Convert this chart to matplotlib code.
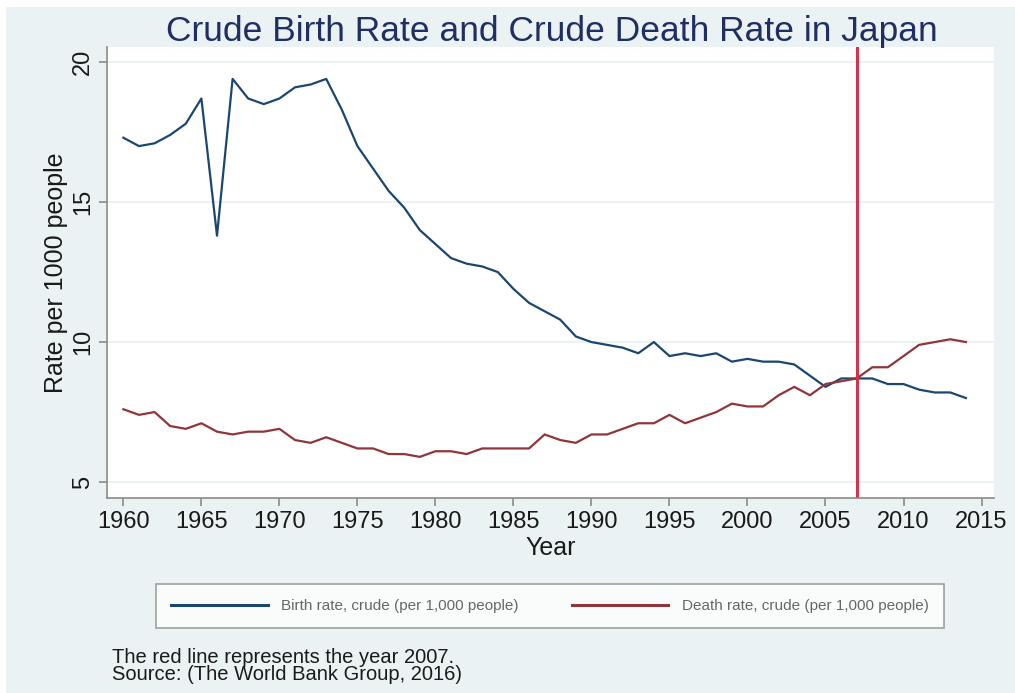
import numpy as np
import matplotlib
matplotlib.use("Agg")
from matplotlib import pyplot as plt
from matplotlib.patches import Rectangle

# Japan, World Bank data
years = np.arange(1960, 2015)
birth_rate = [17.3, 17.0, 17.1, 17.4, 17.8, 18.7, 13.8, 19.4, 18.7, 18.5,
              18.7, 19.1, 19.2, 19.4, 18.3, 17.0, 16.2, 15.4, 14.8, 14.0,
              13.5, 13.0, 12.8, 12.7, 12.5, 11.9, 11.4, 11.1, 10.8, 10.2,
              10.0, 9.9, 9.8, 9.6, 10.0, 9.5, 9.6, 9.5, 9.6, 9.3,
              9.4, 9.3, 9.3, 9.2, 8.8, 8.4, 8.7, 8.7, 8.7, 8.5,
              8.5, 8.3, 8.2, 8.2, 8.0]
death_rate = [7.6, 7.4, 7.5, 7.0, 6.9, 7.1, 6.8, 6.7, 6.8, 6.8,
              6.9, 6.5, 6.4, 6.6, 6.4, 6.2, 6.2, 6.0, 6.0, 5.9,
              6.1, 6.1, 6.0, 6.2, 6.2, 6.2, 6.2, 6.7, 6.5, 6.4,
              6.7, 6.7, 6.9, 7.1, 7.1, 7.4, 7.1, 7.3, 7.5, 7.8,
              7.7, 7.7, 8.1, 8.4, 8.1, 8.5, 8.6, 8.7, 9.1, 9.1,
              9.5, 9.9, 10.0, 10.1, 10.0]
marked_year = 2007
x_ticks = [1960, 1965, 1970, 1975, 1980, 1985, 1990, 1995, 2000, 2005, 2010, 2015]
y_ticks = [5, 10, 15, 20]

BG = "#eaf2f3"
BLUE = "#1a476f"
RED = "#90353b"
plt.rcParams['font.family'] = ['Liberation Sans', 'DejaVu Sans']

W, H = 1015, 693
fig = plt.figure(figsize=(W / 100, H / 100), dpi=100, facecolor=BG)
# thin white strip on the left and top edges
fig.patches.append(Rectangle((0, 0), 6 / W, 1, transform=fig.transFigure,
                             facecolor="white", edgecolor="none", zorder=-10))
fig.patches.append(Rectangle((0, 1 - 7 / H), 1, 7 / H, transform=fig.transFigure,
                             facecolor="white", edgecolor="none", zorder=-10))

ax = fig.add_axes([107 / W, 1 - 498 / H, (994 - 107) / W, (498 - 47) / H])
ax.set_facecolor("white")
ax.plot(years, birth_rate, color=BLUE, lw=1.6, label="Birth rate, crude (per 1,000 people)")
ax.plot(years, death_rate, color=RED, lw=1.6, label="Death rate, crude (per 1,000 people)")
ax.axvline(marked_year, color="#d6304f", lw=2.2)

ax.set_xlim(1958.95, 2015.8)
ax.set_ylim(4.43, 20.54)
ax.set_xticks(x_ticks)
ax.set_yticks(y_ticks)
ax.grid(axis="y", color=BG, lw=1.5)
ax.set_axisbelow(True)
for s in ["top", "right"]:
    ax.spines[s].set_visible(False)
for s in ["left", "bottom"]:
    ax.spines[s].set_color("#8a8a8a")
    ax.spines[s].set_linewidth(1.2)
ax.tick_params(colors="#8a8a8a", length=6, width=1.2, labelcolor="#1a1a1a", labelsize=17)
for lab in ax.get_yticklabels():
    lab.set_rotation(90)
    lab.set_va("center")

ax.set_xlabel("Year", fontsize=18, color="#1a1a1a", labelpad=2)
ax.set_ylabel("Rate per 1000 people", fontsize=18, color="#1a1a1a", labelpad=3)

fig.text(552 / W, 1 - 31 / H, "Crude Birth Rate and Crude Death Rate in Japan",
         ha="center", va="center", fontsize=25.5, color="#1f2f63")

leg = fig.legend(loc="center", ncol=2, mode="expand",
                 bbox_to_anchor=(156 / W, 1 - 630 / H, (944 - 156) / W, 48 / H),
                 fontsize=11, handlelength=6.3, handletextpad=0.9, borderpad=1.0,
                 frameon=True, fancybox=False, borderaxespad=0)
leg.get_frame().set_edgecolor("#8a8a8a")
leg.get_frame().set_linewidth(1.2)
for t in leg.get_texts():
    t.set_color("#666666")
for h in leg.get_lines():
    h.set_linewidth(2.2)

fig.text(112 / W, 1 - 666 / H, "The red line represents the year 2007.\nSource: (The World Bank Group, 2016)",
         ha="left", va="center", fontsize=14.5, color="#1a1a1a", linespacing=0.9)

fig.savefig("out.png", dpi=100, facecolor=fig.get_facecolor())
